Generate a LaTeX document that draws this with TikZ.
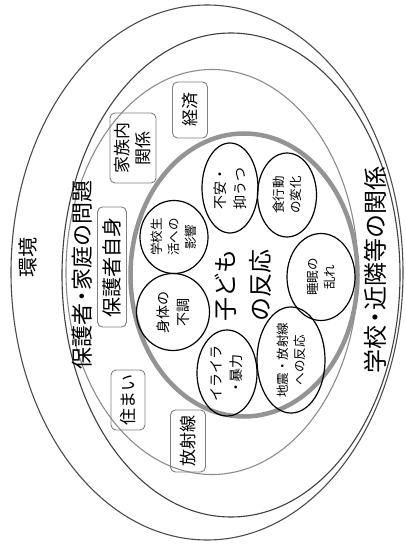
\documentclass[tikz,border=0pt]{standalone}
\usepackage{fontspec}
\setmainfont{Noto Sans CJK JP}
\usetikzlibrary{shapes.geometric}
\newcommand\nakadot{\kern-0.2em・\kern-0.2em}
\begin{document}
\begin{tikzpicture}[x=1pt,y=-1pt,
  zone/.style={ellipse, draw, inner sep=0pt, line width=1.1pt},
  react/.style={ellipse, draw=black, line width=1.2pt, inner sep=0pt, rotate=90, align=center, font=\fontsize{12.5}{17}\selectfont},
  factor/.style={rectangle, rounded corners=5pt, draw=black!50, line width=0.9pt, inner sep=0pt, rotate=90, align=center, font=\fontsize{17}{21}\selectfont},
  zonetext/.style={rotate=90, inner sep=0pt}
]
\fill[white] (0,0) rectangle (405,548);
\useasboundingbox (0,0) rectangle (405,548);
% zones
\node[zone, draw=black!70, minimum width=392pt, minimum height=535pt] (env) at (207,272.5) {};
\node[zone, draw=black!75, minimum width=338pt, minimum height=484pt] (schoolzone) at (231,275) {};
\node[zone, draw=black!45, minimum width=292pt, minimum height=405pt] (familyzone) at (212,272) {};
\node[zone, draw=black!42, line width=4.5pt, minimum width=227pt, minimum height=283pt] (child) at (244,275) {};
% zone labels
\node[zonetext, font=\fontsize{20}{20}\selectfont] (envlabel) at (28,257) {環境};
\node[zonetext, font=\fontsize{22}{22}\selectfont] (familylabel) at (82,275) {保護者\nakadot 家庭の問題};
\node[zonetext, font=\fontsize{24}{24}\selectfont] (schoollabel) at (375,270) {学校\nakadot 近隣等の関係};
% factor boxes
\node[factor, minimum width=56pt, minimum height=35pt] (keizai) at (190,110) {経済};
\node[factor, minimum width=70pt, minimum height=46pt] (kazoku) at (133,148) {家族内\\関係};
\node[factor, minimum width=120pt, minimum height=29pt, font=\fontsize{20}{20}\selectfont] (hogosha) at (112,267) {保護者自身};
\node[factor, minimum width=60pt, minimum height=34pt] (sumai) at (128,400) {住まい};
\node[factor, minimum width=62pt, minimum height=35pt] (hoshasen) at (188,441) {放射線};
% child centre text
\node[zonetext, align=center, font=\fontsize{24}{35}\selectfont] (childlabel) at (243,285) {子ども\\の反応};
% reactions
\node[react, minimum width=73pt, minimum height=68pt] (gakko) at (174,237) {学校生\\活への\\影響};
\node[react, minimum width=77pt, minimum height=73pt, font=\fontsize{14}{20}\selectfont] (shintai) at (173,312) {身体の\\不調};
\node[react, minimum width=86pt, minimum height=60pt, font=\fontsize{14}{20}\selectfont] (iraira) at (227,373) {イライラ\\\nakadot 暴力};
\node[react, minimum width=94pt, minimum height=68pt] (jishin) at (291,360) {地震・放射線\\への反応};
\node[react, minimum width=87pt, minimum height=68pt] (suimin) at (321,277) {睡眠の\\乱れ};
\node[react, minimum width=84pt, minimum height=59pt] (shoku) at (287,195) {食行動\\の変化};
\node[react, minimum width=90pt, minimum height=56pt, font=\fontsize{14}{20}\selectfont] (fuan) at (230,188) {不安・\\抑うつ};
\end{tikzpicture}
\end{document}
